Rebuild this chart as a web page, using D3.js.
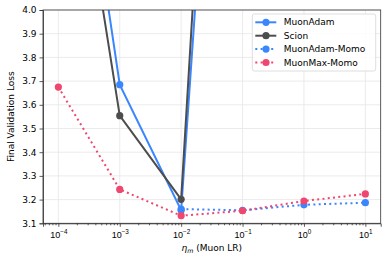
<!DOCTYPE html>
<html>
<head>
<meta charset="utf-8">
<script src="https://cdn.jsdelivr.net/npm/d3@7"></script>
<style>
  body { margin: 0; background: #fff; }
  svg { font-family: "DejaVu Sans", sans-serif; }
  .grid line { stroke: #e6e6e6; stroke-width: 0.8; }
</style>
</head>
<body>
<svg id="chart" width="388" height="261"></svg>
<script>
// learning rates (x) and final validation loss for each optimizer
var lrs = [1e-4, 1e-3, 1e-2, 1e-1, 1e0, 1e1];
var muonAdam = [5.43, 3.685, 3.155, 6.9];
var scion = [5.19, 3.554, 3.201, 7.5];
var muonAdamMomoLr = [1e-2, 1e-1, 1e0, 1e1];
var muonAdamMomo = [3.16, 3.155, 3.178, 3.187];
var muonMaxMomo = [3.675, 3.243, 3.132, 3.153, 3.194, 3.224];
var yTicks = [3.1, 3.2, 3.3, 3.4, 3.5, 3.6, 3.7, 3.8, 3.9, 4.0];
var xTicks = [-4, -3, -2, -1, 0, 1];

var series = [
    {name: "MuonAdam", x: lrs, y: muonAdam, color: "#3a86ff", dotted: false},
    {name: "Scion", x: lrs, y: scion, color: "#4d4d4d", dotted: false},
    {name: "MuonAdam-Momo", x: muonAdamMomoLr, y: muonAdamMomo, color: "#3a86ff", dotted: true},
    {name: "MuonMax-Momo", x: lrs, y: muonMaxMomo, color: "#ef476f", dotted: true}
];

var plotLeft = 43, plotRight = 380.7, plotTop = 10, plotBottom = 223.3;
var fontSize = 9;
var svg = d3.select("#chart");

var x = d3.scaleLog()
    .domain([Math.pow(10, -4.25), Math.pow(10, 1.25)])
    .range([plotLeft, plotRight]);
var y = d3.scaleLinear()
    .domain([3.1, 4.0])
    .range([plotBottom, plotTop]);

// grid
var grid = svg.append("g").attr("class", "grid");
grid.selectAll(".gx").data(xTicks).enter().append("line")
    .attr("x1", function(d){ return x(Math.pow(10, d)); })
    .attr("x2", function(d){ return x(Math.pow(10, d)); })
    .attr("y1", plotTop).attr("y2", plotBottom);
grid.selectAll(".gy").data(yTicks).enter().append("line")
    .attr("x1", plotLeft).attr("x2", plotRight)
    .attr("y1", function(d){ return y(d); })
    .attr("y2", function(d){ return y(d); });

svg.append("clipPath").attr("id", "clip")
    .append("rect")
    .attr("x", plotLeft).attr("y", plotTop)
    .attr("width", plotRight - plotLeft).attr("height", plotBottom - plotTop);

var plot = svg.append("g").attr("clip-path", "url(#clip)");

var line = d3.line()
    .x(function(d){ return x(d[0]); })
    .y(function(d){ return y(d[1]); });

series.forEach(function(s){
    var pts = s.y.map(function(v, i){ return [s.x[i], v]; });
    plot.append("path")
        .datum(pts)
        .attr("d", line)
        .attr("fill", "none")
        .attr("stroke", s.color)
        .attr("stroke-width", 2)
        .attr("stroke-dasharray", s.dotted ? "2,3.3" : null);
    plot.selectAll(null)
        .data(pts)
        .enter().append("circle")
        .attr("cx", function(d){ return x(d[0]); })
        .attr("cy", function(d){ return y(d[1]); })
        .attr("r", 3.6)
        .attr("fill", s.color);
});

// axes
var xAxis = d3.axisBottom(x)
    .tickValues(xTicks.map(function(d){ return Math.pow(10, d); }))
    .tickSize(3.5)
    .tickFormat("");
var gx = svg.append("g")
    .attr("transform", "translate(0," + plotBottom + ")")
    .call(xAxis);

// minor ticks
var minor = [];
for (var e = -5; e <= 1; e++) {
    for (var m = 2; m <= 9; m++) {
        var v = m * Math.pow(10, e);
        if (v >= x.domain()[0] && v <= x.domain()[1]) minor.push(v);
    }
}
var gxm = svg.append("g")
    .attr("transform", "translate(0," + plotBottom + ")")
    .call(d3.axisBottom(x).tickValues(minor).tickSize(2).tickFormat(""));
gxm.select(".domain").remove();

gx.selectAll(".tick").each(function(d){
    var t = d3.select(this).append("text")
        .attr("y", 15)
        .attr("fill", "#000")
        .attr("font-size", fontSize)
        .attr("text-anchor", "middle");
    var exp = Math.round(Math.log10(d));
    t.append("tspan").text("10");
    t.append("tspan").attr("dy", -4).attr("font-size", 6.3).text(exp < 0 ? "\u2212" + (-exp) : exp);
});

var gy = svg.append("g")
    .attr("transform", "translate(" + plotLeft + ",0)")
    .call(d3.axisLeft(y).tickValues(yTicks).tickSize(3.5).tickFormat(d3.format(".1f")));
gy.selectAll("text").attr("font-size", fontSize).attr("fill", "#000").attr("font-family", "DejaVu Sans");

svg.selectAll(".domain").attr("stroke", "#333").attr("stroke-width", 0.8);
svg.selectAll(".tick line").attr("stroke", "#333").attr("stroke-width", 0.8);

// top/right spines
svg.append("rect")
    .attr("x", plotLeft).attr("y", plotTop)
    .attr("width", plotRight - plotLeft).attr("height", plotBottom - plotTop)
    .attr("fill", "none").attr("stroke", "#333").attr("stroke-width", 0.8);

// labels
svg.append("text")
    .attr("transform", "translate(11," + ((plotTop + plotBottom) / 2) + ") rotate(-90)")
    .attr("text-anchor", "middle")
    .attr("dy", "0.35em")
    .attr("font-size", fontSize)
    .text("Final Validation Loss");

var xl = svg.append("text")
    .attr("x", (plotLeft + plotRight) / 2)
    .attr("y", 251)
    .attr("text-anchor", "middle")
    .attr("font-size", fontSize);
xl.append("tspan").attr("font-style", "italic").text("\u03b7");
xl.append("tspan").attr("font-style", "italic").attr("font-size", 6.3).attr("dy", 2).text("m");
xl.append("tspan").attr("dy", -2).text(" (Muon LR)");

// legend
var lg = svg.append("g").attr("transform", "translate(252.3,14)");
lg.append("rect")
    .attr("width", 123.4).attr("height", 57)
    .attr("rx", 2)
    .attr("fill", "#fff").attr("fill-opacity", 0.8)
    .attr("stroke", "#d6d6d6").attr("stroke-width", 0.8);
series.forEach(function(s, i){
    var row = lg.append("g").attr("transform", "translate(0," + (8.3 + i * 13.4) + ")");
    row.append("line")
        .attr("x1", 3).attr("x2", 24)
        .attr("stroke", s.color).attr("stroke-width", 2)
        .attr("stroke-dasharray", s.dotted ? "2,3.3" : null);
    row.append("circle").attr("cx", 13.7).attr("r", 3.6).attr("fill", s.color);
    row.append("text")
        .attr("x", 31.5).attr("dy", "0.35em")
        .attr("font-size", fontSize)
        .text(s.name);
});
</script>
</body>
</html>
